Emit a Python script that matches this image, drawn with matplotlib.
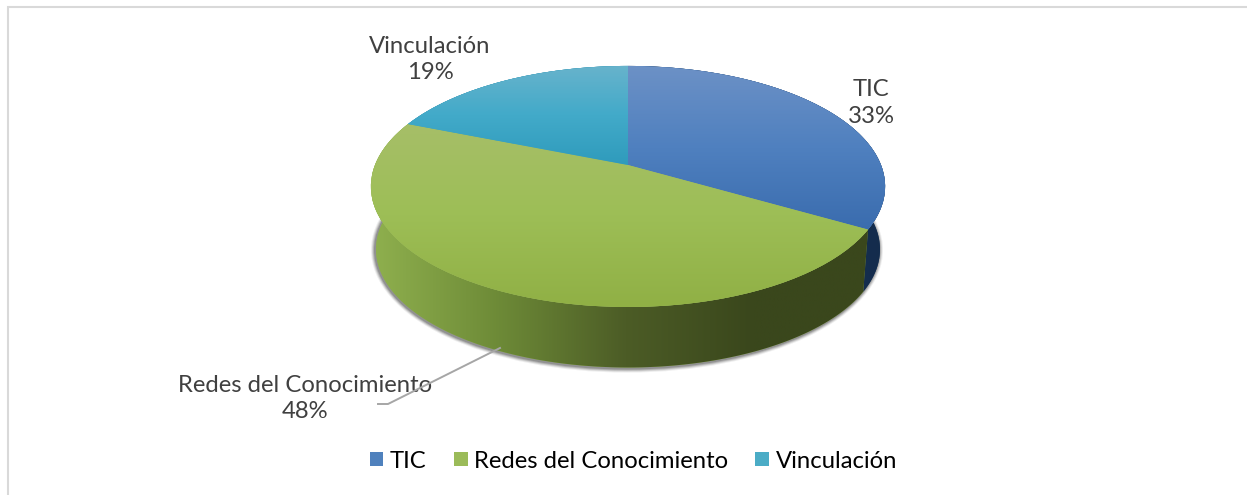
import numpy as np
import matplotlib
matplotlib.use("Agg")
import matplotlib.pyplot as plt
from matplotlib.transforms import Transform
from matplotlib.colors import LinearSegmentedColormap
from matplotlib.patches import Ellipse, Polygon, Patch

categories = ["TIC", "Redes del Conocimiento", "Vinculación"]
values = [33.4, 47.7, 18.9]
legend_colors = ["#4f81bd", "#9bbb59", "#4bacc6"]

# vertical gradients of the top faces (colour stops from top to bottom of face)
top_stops = [["#6c91c6", "#4f80bf", "#3a6cae"],
             ["#a6bf68", "#9dbe56", "#90b045"],
             ["#68b3cc", "#42aac9", "#2f9bbc"]]
# horizontal gradients of the side walls (colour stops from left to right)
wall_stops = [["#1a3a63", "#173459", "#142c4c"],
              ["#8fb04e", "#6d8a37", "#4c5c26", "#3a471c", "#3a471c"],
              ["#2f8aa8", "#2f8aa8", "#2f8aa8"]]

TEXT = "#404040"
FONT = "Lato"
FS = 17.2

W, H = 1247, 495
fig = plt.figure(figsize=(W / 100, H / 100), dpi=100)
ax = fig.add_axes([0, 0, 1, 1])

CX, APEX = 628.0, 165.0
C, A, D = 0.178, 116.7, 253.0


def project(uv):
    uv = np.asarray(uv, float)
    u, v = uv[..., 0], uv[..., 1]
    k = 1 + C * v
    return np.stack([CX + D * u / k, APEX - A * v / k], axis=-1)


class Perspective(Transform):
    input_dims = output_dims = 2
    is_affine = False

    def transform_non_affine(self, values):
        return project(values)


def lower(xy, sx=0.98, dy=62.9, cy=186.5):
    out = xy.copy()
    out[..., 0] = CX + (xy[..., 0] - CX) * sx
    out[..., 1] = cy + dy + (xy[..., 1] - cy) * sx
    return out


wedges, _ = ax.pie(values, startangle=90, counterclock=False, colors=legend_colors,
                   wedgeprops=dict(linewidth=0))
ax.set_aspect("auto")
tr = Perspective() + ax.transData

# soft shadow beneath the disc
for k, a in zip([4, 3, 2, 1], [0.08, 0.14, 0.2, 0.25]):
    ax.add_patch(Ellipse((CX - 1, 250.0), 2 * (252 + k), 2 * (118.6 + k),
                         fc="#303030", ec="none", alpha=a, zorder=1))

for w, tstops, wstops in zip(wedges, top_stops, wall_stops):
    th = np.radians(np.linspace(w.theta1, w.theta2, 200))
    arc = project(np.column_stack([np.cos(th), np.sin(th)]))
    poly = np.vstack([arc, lower(arc)[::-1]])
    wall = Polygon(poly, closed=True, fc=wstops[0], ec="none", zorder=2)
    ax.add_patch(wall)
    cm = LinearSegmentedColormap.from_list("w", wstops)
    x0, x1 = (poly[:, 0].min(), poly[:, 0].max())
    if w is wedges[1]:
        x0, x1 = 372, 880
    im = ax.imshow(np.linspace(0, 1, 256)[None, :], cmap=cm, extent=[x0, x1, 400, 60],
                   aspect="auto", zorder=2.1, interpolation="bilinear")
    im.set_clip_path(wall)

for w, tstops in zip(wedges, top_stops):
    w.set_transform(tr)
    w.set_zorder(3)
    w.set_facecolor(tstops[1])
    th = np.radians(np.linspace(w.theta1, w.theta2, 200))
    pts = project(np.column_stack([np.cos(th), np.sin(th)]))
    y0, y1 = min(pts[:, 1].min(), APEX), max(pts[:, 1].max(), APEX)
    cm = LinearSegmentedColormap.from_list("t", tstops)
    im = ax.imshow(np.linspace(0, 1, 256)[:, None], cmap=cm,
                   extent=[360, 895, y1, y0], aspect="auto", zorder=3.1,
                   interpolation="bilinear")
    im.set_clip_path(w)

ax.set_xlim(0, W)
ax.set_ylim(H, 0)
ax.set_axis_off()

# chart frame
ax.plot([8, 8, W], [H, 7, 7], color="#d9d9d9", lw=1.5, solid_joinstyle="miter", zorder=1)

# data labels
label_pos = [(871, 103), (305, 398.5), (430, 59.5)]
for name, v, (x, y) in zip(categories, values, label_pos):
    ax.text(x, y, f"{name}\n{round(v)}%", ha="center", va="center", color=TEXT,
            fontsize=FS, family=FONT, linespacing=1.3, zorder=5)

# leader line
ax.plot([500, 388, 378], [348, 404, 404], color="#a6a6a6", lw=1.4, zorder=6)

# legend
handles = [Patch(fc=c, ec="none", label=n) for c, n in zip(legend_colors, categories)]
leg = ax.legend(handles=handles, ncol=3, frameon=False, loc="center",
                bbox_to_anchor=(633.5 / W, 1 - 461 / H),
                prop=dict(family=FONT, size=FS), handlelength=0.58, handleheight=0.58,
                handletextpad=0.28, columnspacing=1.13, borderpad=0, labelcolor="black")

fig.savefig("out.png", dpi=100, facecolor="white")
